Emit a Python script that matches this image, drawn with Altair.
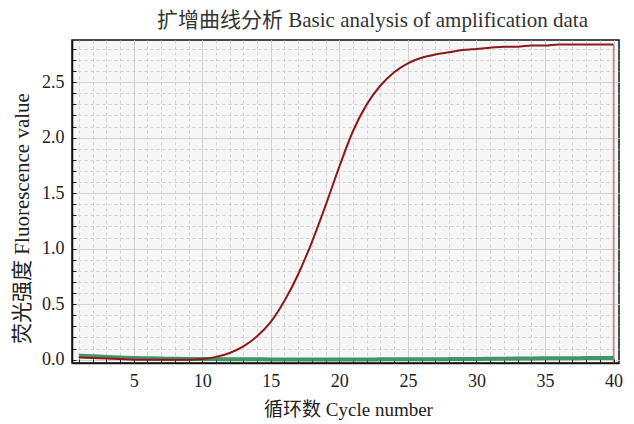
import altair as alt
import pandas as pd

cycles = list(range(1, 41))
red_values = [0.02, 0.015, 0.01, 0.005, 0.0, 0.0, 0.0, 0.0, 0.0, 0.005,
              0.025, 0.06, 0.12, 0.21, 0.34, 0.53, 0.77, 1.06, 1.39, 1.74,
              2.06, 2.30, 2.47, 2.59, 2.67, 2.72, 2.75, 2.77, 2.79, 2.80,
              2.81, 2.82, 2.82, 2.83, 2.83, 2.84, 2.84, 2.84, 2.84, 2.84]
green_values = [0.035, 0.03, 0.025, 0.02, 0.015, 0.012, 0.01, 0.008, 0.007, 0.006,
                0.005, 0.004, 0.003, 0.003, 0.002, 0.002, 0.002, 0.002, 0.002, 0.002,
                0.002, 0.002, 0.003, 0.003, 0.003, 0.004, 0.004, 0.005, 0.006, 0.007,
                0.008, 0.009, 0.01, 0.011, 0.012, 0.013, 0.013, 0.014, 0.014, 0.015]
end_cycle = [40]
end_value = [2.84]

x_major = [5, 10, 15, 20, 25, 30, 35, 40]
x_minor = list(range(1, 41))
y_major = [0.0, 0.5, 1.0, 1.5, 2.0, 2.5]
y_minor = [round(i * 0.1, 1) for i in range(0, 29)]

FONT = "Liberation Serif, Noto Sans CJK SC"

df_red = pd.DataFrame({"cycle": cycles, "value": red_values})
df_green = pd.DataFrame({"cycle": cycles, "value": green_values})
df_end = pd.DataFrame({"cycle": end_cycle, "value": end_value})

xscale = alt.Scale(domain=[0.5, 40.4], nice=False, zero=False)
yscale = alt.Scale(domain=[-0.03, 2.88], nice=False, zero=False)

minor_x_axis = alt.Axis(orient="bottom", values=x_minor, labels=False, title=None,
                        domain=False, ticks=True, tickSize=4, offset=-4,
                        tickColor="#222", tickWidth=1,
                        grid=True, gridColor="#c8c8c8", gridDash=[3, 3], gridWidth=0.8)
minor_y_axis = alt.Axis(orient="left", values=y_minor, labels=False, title=None,
                        domain=False, ticks=True, tickSize=4, offset=-4,
                        tickColor="#222", tickWidth=1,
                        grid=True, gridColor="#c8c8c8", gridDash=[3, 3], gridWidth=0.8)

major_x_axis = alt.Axis(orient="bottom", values=x_major, title="循环数 Cycle number",
                        domain=True, domainColor="#111", domainWidth=1.5,
                        ticks=False, labelPadding=9, labelFontSize=18,
                        labelFont=FONT, labelColor="#222",
                        titleFont=FONT, titleFontSize=19, titleFontWeight="normal",
                        titleColor="#222", titlePadding=10, titleX=276,
                        grid=True, gridColor="#d2d2d2", gridWidth=1)
major_y_axis = alt.Axis(orient="left", values=y_major, format=".1f",
                        title="荧光强度 Fluorescence value",
                        domain=True, domainColor="#111", domainWidth=1.5,
                        ticks=False, labelPadding=8, labelFontSize=18,
                        labelFont=FONT, labelColor="#222",
                        titleFont=FONT, titleFontSize=21, titleFontWeight="normal",
                        titleColor="#222", titlePadding=9, titleY=178,
                        grid=True, gridColor="#d2d2d2", gridWidth=1)

green = alt.Chart(df_green).mark_line(color="#2e8b57", strokeWidth=4, opacity=0.9,
                                      interpolate="monotone").encode(
    x=alt.X("cycle:Q", scale=xscale, axis=minor_x_axis),
    y=alt.Y("value:Q", scale=yscale, axis=minor_y_axis),
)

red = alt.Chart(df_red).mark_line(color="#8b1a1a", strokeWidth=2,
                                  interpolate="monotone").encode(
    x=alt.X("cycle:Q", scale=xscale, axis=major_x_axis),
    y=alt.Y("value:Q", scale=yscale, axis=major_y_axis),
)

end_rule = alt.Chart(df_end).mark_rule(color="#a04848", strokeWidth=1.5, opacity=0.6).encode(
    x=alt.X("cycle:Q", scale=xscale, axis=None),
    y=alt.Y("value:Q", scale=yscale, axis=None),
    y2=alt.value(323),
)

chart = alt.layer(green, end_rule, red).resolve_axis(
    x="independent", y="independent"
).properties(
    width=547,
    height=323,
    autosize=alt.AutoSizeParams(type="none"),
    padding={"left": 64, "top": 32, "right": 7, "bottom": 60},
    background="white",
    title=alt.TitleParams(
        "扩增曲线分析 Basic analysis of amplification data",
        font=FONT, fontSize=21, fontWeight="normal", color="#333",
        anchor="middle", dx=27, offset=9,
    ),
).configure_view(
    fill="#f6f6f6", stroke="#111", strokeWidth=1.5
)

chart.save("out.html", embed_options={"renderer": "svg", "actions": False})
